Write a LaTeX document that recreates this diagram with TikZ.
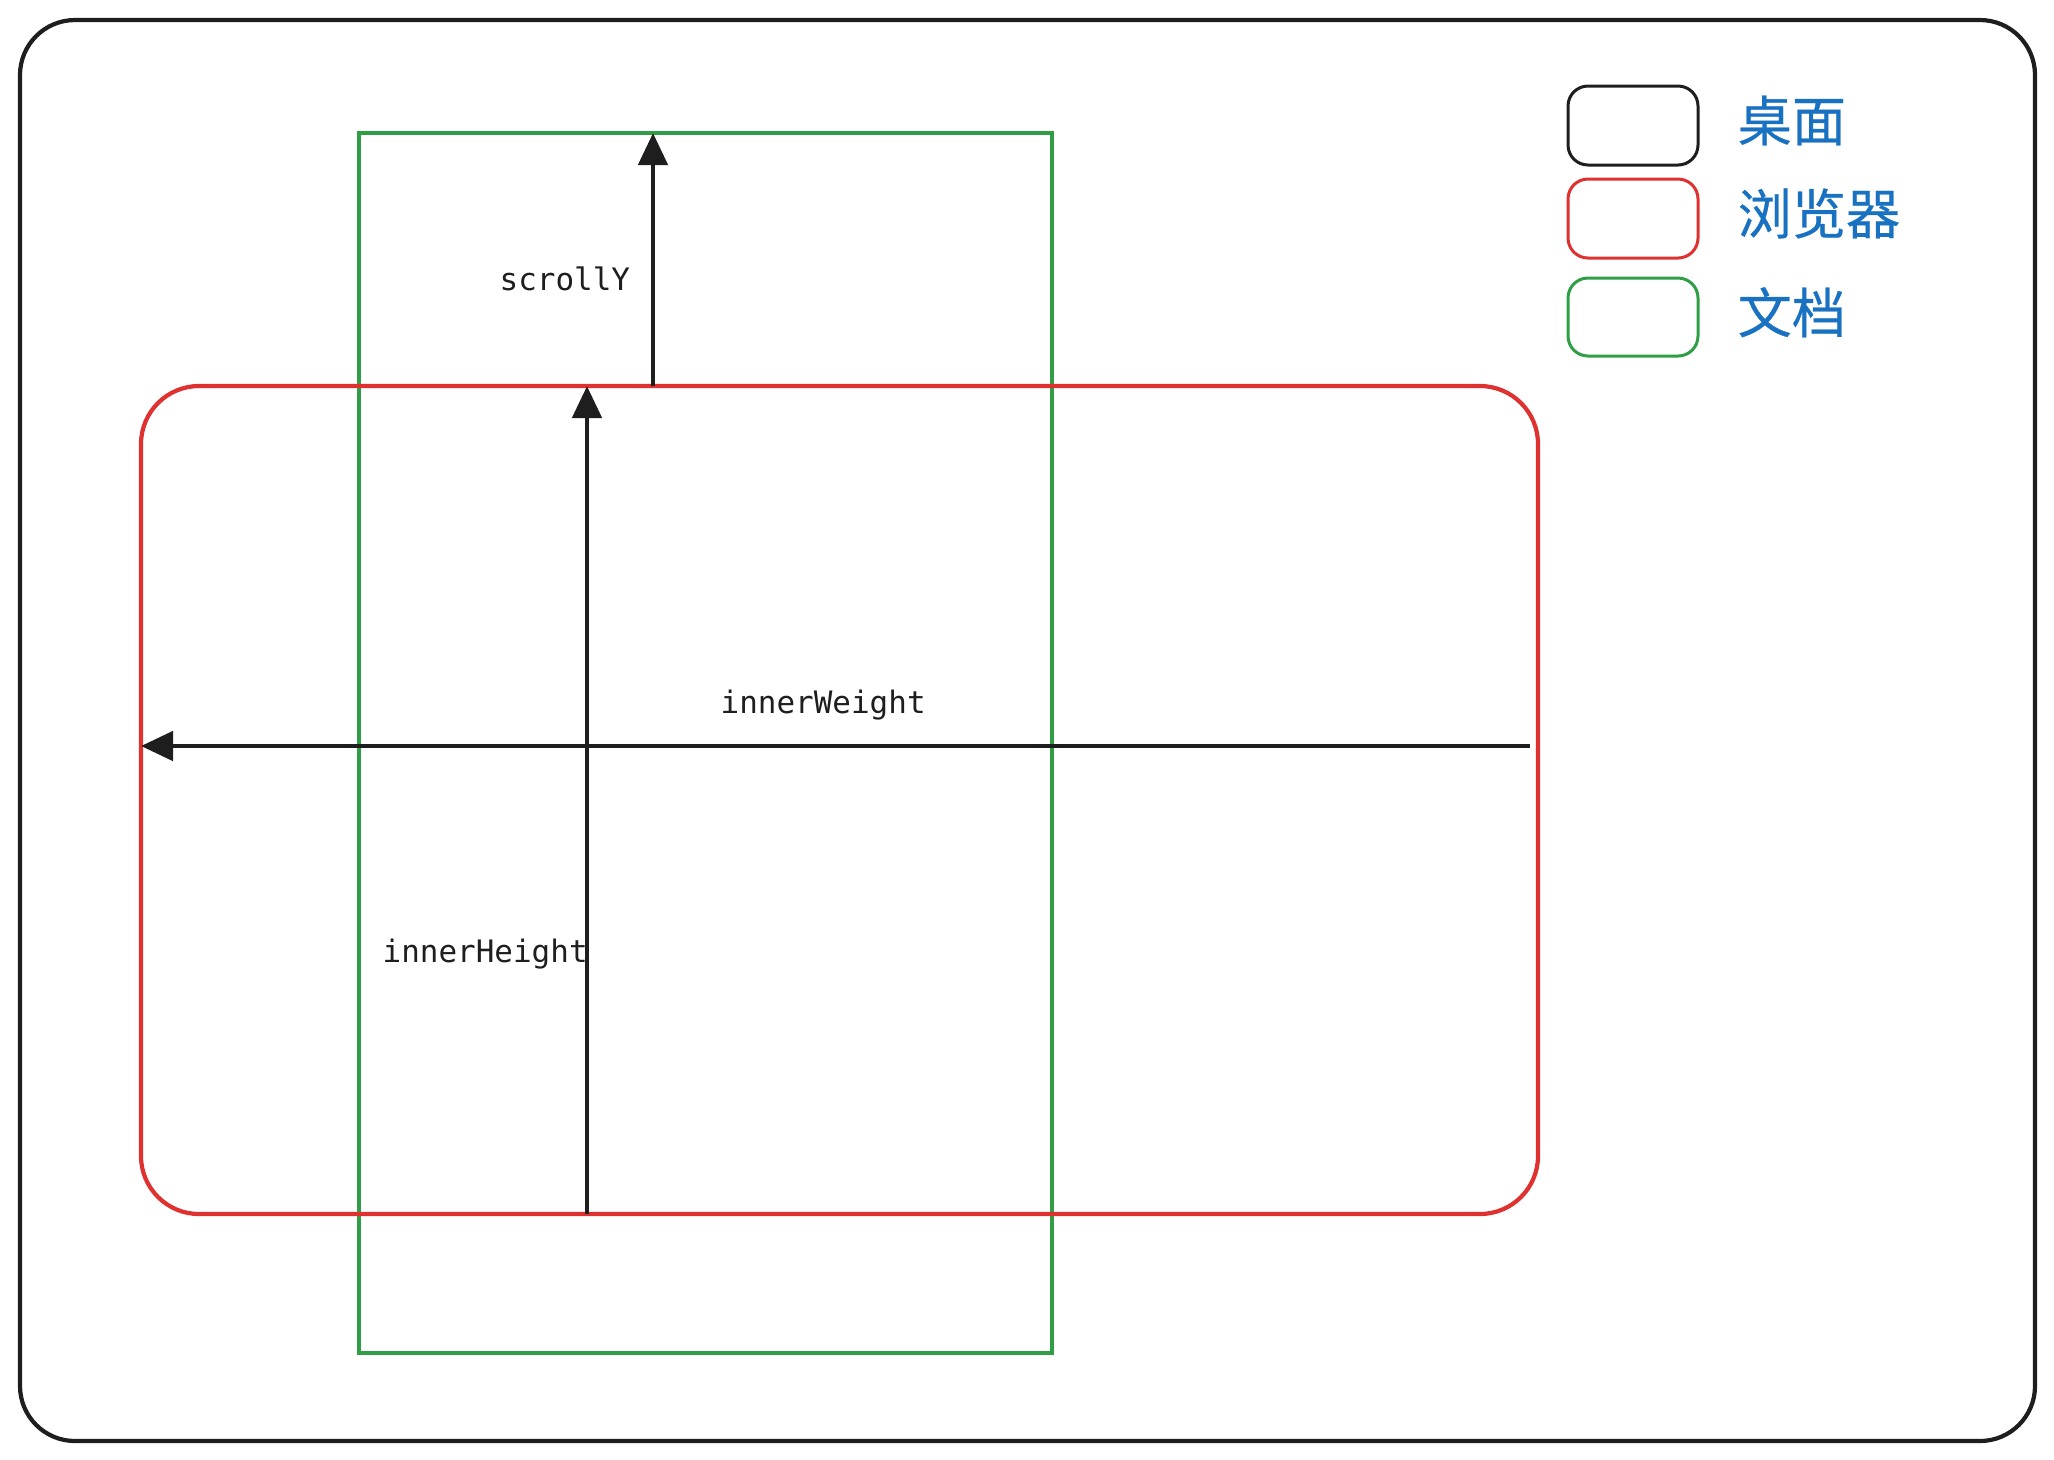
\documentclass[tikz,border=0pt]{standalone}
\usepackage{fontspec}
\setmonofont{DejaVu Sans Mono}
\newfontfamily\cjk[FakeBold=0.5]{Noto Sans CJK SC}
\usetikzlibrary{arrows.meta}
\definecolor{ink}{HTML}{1E1E1E}
\definecolor{exred}{HTML}{E03131}
\definecolor{exgreen}{HTML}{2F9E44}
\definecolor{exblue}{HTML}{1971C2}
\tikzset{
  dim/.style={ink,line width=0.048cm,-{Triangle[length=0.32cm,width=0.29cm]}},
  lbl/.style={ink,font=\ttfamily\fontsize{8.8pt}{10pt}\selectfont,inner sep=0,anchor=base west},
  key/.style={line width=0.03cm,rounded corners=0.2cm},
  keytext/.style={exblue,font=\cjk\fontsize{15.4pt}{18pt}\selectfont,inner sep=0,anchor=base west}
}
\begin{document}
\begin{tikzpicture}[x=0.01cm,y=-0.01cm]
\useasboundingbox (0,0) rectangle (2054,1459);
\coordinate (D1) at (20,20);\coordinate (D2) at (2035,1441);
\coordinate (B1) at (141,386);\coordinate (B2) at (1538,1214);
\coordinate (C1) at (359,133);\coordinate (C2) at (1052,1353);
\coordinate (S0) at (653,386);\coordinate (S1) at (653,133);
\coordinate (H0) at (587,1214);\coordinate (H1) at (587,386);
\coordinate (W0) at (1530,746);\coordinate (W1) at (141,746);
\draw[ink,line width=0.042cm,rounded corners=0.55cm](D1) rectangle (D2);
\draw[exgreen,line width=0.036cm](C1) rectangle (C2);
\draw[exred,line width=0.042cm,rounded corners=0.58cm](B1) rectangle (B2);
\draw[dim](S0)--(S1);
\draw[dim](H0)--(H1);
\draw[dim](W0)--(W1);
\node[lbl] (sy) at (499,290) {scrollY};
\node[lbl] (ih) at (382,962) {innerHeight};
\node[lbl] (iw) at (720,713) {innerWeight};
\draw[key,ink](1568,86) rectangle (1698,165);
\draw[key,exred](1568,179) rectangle (1698,258);
\draw[key,exgreen](1568,278) rectangle (1698,356);
\node[keytext] (desk) at (1737,141) {桌面};
\node[keytext] (brow) at (1737,234) {浏览器};
\node[keytext] (doc) at (1737,333) {文档};
\end{tikzpicture}
\end{document}
